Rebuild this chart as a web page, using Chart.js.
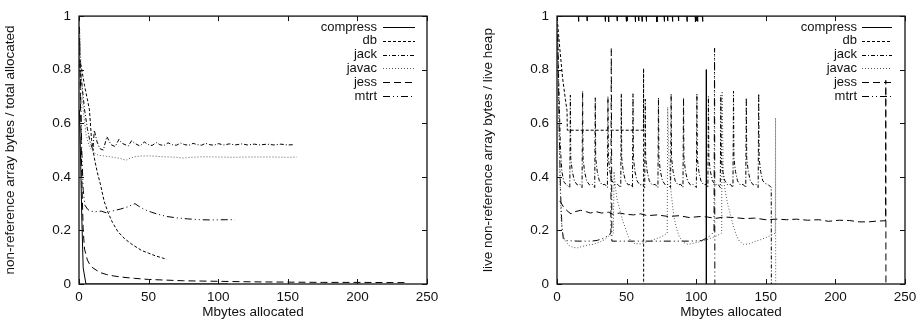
<!DOCTYPE html>
<html lang="en">
<head>
  <meta charset="UTF-8" />
  <title>Non-reference array bytes</title>
  <script src="https://cdn.jsdelivr.net/npm/chart.js"></script>
  <style>
    body {
      margin: 0;
      background: #fff;
    }
    canvas {
      position: absolute;
      top: 0;
    }
    #totalChart { left: 0; }
    #liveChart { left: 460px; }
  </style>
</head>
<body>
  <canvas id="totalChart" width="460" height="323"></canvas>
  <canvas id="liveChart" width="463" height="323"></canvas>

  <script>
    const benchmarks = ["compress", "db", "jack", "javac", "jess", "mtrt"];
    const xTickValues = [0, 50, 100, 150, 200, 250];
    const yTickValues = [0, 0.2, 0.4, 0.6, 0.8, 1];

    // left: non-reference array bytes / total allocated  ([Mbytes, ratio])
    const totalCompress = [[0.3,0.65],[1,0.5],[2,0.25],[3,0.06],[5,0],[107,0]];
    const totalDb = [[0.5,0.84],[2,0.8],[4,0.74],[6,0.69],[7.5,0.65],[9,0.54],[11,0.47],[13,0.42],[15.5,0.37],[18,0.31],
      [21,0.265],[24,0.23],[28,0.195],[33,0.168],[38,0.148],[45,0.125],[50,0.115],[55,0.105],[60,0.097],[63,0.092]];
    const totalJack = [[0.5,0.82],[2,0.75],[4,0.65],[6,0.58],[8,0.53],[10,0.5],[11,0.574],[13,0.53],[15,0.505],[17.5,0.5],
      [20,0.55],[23,0.52],[26,0.513],[28.7,0.54],[31,0.525],[35.4,0.515],[37.8,0.535],[40,0.525],[43.8,0.515],[46.9,0.53],
      [50,0.52],[52.5,0.517],[55.5,0.528],[58,0.52],[61,0.517],[64,0.527],[67,0.52],[70,0.518],[73,0.526],[76,0.52],
      [79,0.518],[82,0.525],[85,0.52],[88,0.518],[91,0.525],[94,0.52],[97,0.518],[100,0.524],[104,0.519],[108,0.523],
      [112,0.519],[117,0.523],[121,0.519],[126,0.522],[130,0.519],[135,0.522],[140,0.519],[145,0.522],[150,0.519],[154,0.52]];
    const totalJavac = [[0.5,0.95],[1.5,0.8],[3,0.65],[5,0.56],[7,0.52],[9,0.5],[11,0.49],[14,0.48],[18,0.478],[22,0.475],
      [26,0.472],[30,0.468],[33.8,0.462],[36,0.468],[40,0.475],[45,0.478],[50,0.478],[55,0.477],[60,0.475],[65,0.474],
      [70,0.473],[75,0.47],[80,0.473],[90,0.475],[100,0.474],[110,0.473],[120,0.474],[130,0.474],[140,0.474],[150,0.473],[156.5,0.474]];
    const totalJess = [[0.3,0.96],[1,0.7],[2,0.4],[3,0.2],[4,0.13],[6,0.09],[8,0.07],[10,0.06],[15,0.043],[20,0.035],
      [25,0.03],[30,0.026],[40,0.021],[50,0.017],[60,0.015],[75,0.012],[100,0.01],[125,0.008],[150,0.007],[175,0.006],
      [200,0.006],[236,0.005]];
    const totalMtrt = [[0.5,0.9],[2,0.5],[3,0.35],[4.3,0.294],[6,0.28],[8,0.272],[12,0.27],[16,0.272],[20,0.265],[22,0.27],
      [26,0.275],[30,0.28],[35,0.288],[40.2,0.3],[43,0.29],[47,0.278],[52,0.268],[57,0.26],[63,0.252],[70,0.247],
      [78,0.243],[87,0.24],[95,0.239],[105,0.24],[112,0.24]];

    // right: live non-reference array bytes / live heap
    const liveCompress = [[0,1],[15.3,1],[15.5,0.98],[15.7,1],[21.4,1],[21.6,0.982],[21.8,1],[34.5,1],[34.7,0.98],[34.9,1],
      [36.9,1],[37.1,0.978],[37.3,1],[43,1],[43.2,0.982],[43.4,1],[49.6,1],[49.8,0.98],[50,1],[56.1,1],[56.3,0.978],[56.5,1],
      [58.5,1],[58.7,0.982],[58.9,1],[60.9,1],[61.1,0.98],[61.3,1],[64,1],[64.2,0.98],[64.4,1],[71.6,1],[71.8,0.978],[72,1],
      [76.9,1],[77.1,0.98],[77.3,1],[79.3,1],[79.5,0.982],[79.7,1],[82.8,1],[83,0.98],[83.2,1],[87.1,1],[87.3,0.982],[87.5,1],
      [93.2,1],[93.4,0.98],[93.6,1],[99.2,1],[99.4,0.978],[99.6,1],[100.8,1],[101,0.98],[101.2,1],[104.4,1],[104.6,0.98],
      [104.8,1],[106,null],[107.3,0.8],[107.3,0]];
    const liveDb = [[0.5,0.97],[2,0.88],[4,0.77],[6,0.69],[7.2,0.647],[7.4,0.574],[20,0.574],[40,0.574],[62.1,0.574],
      [62.2,0.805],[62.25,0]];
    const liveJack = [[0.5,0.92],[1.5,0.7],[2.5,0.5],[3.5,0.42],[5,0.38],[7,0.37],[9.2,0.36],
      [9.6,0.705],[9.9,0.47],[11,0.42],[12.5,0.385],[14.5,0.37],[16.5,0.372],[18,0.36],
      [18.4,0.72],[18.7,0.47],[19.8,0.42],[21.3,0.385],[23.3,0.37],[25.3,0.372],[27.1,0.36],
      [27.5,0.695],[27.8,0.47],[28.9,0.42],[30.4,0.385],[32.4,0.37],[34.4,0.372],[36.2,0.36],
      [36.6,0.7],[36.9,0.47],[38,0.42],[39.5,0.385],[41.5,0.37],[43.5,0.372],[45.8,0.36],
      [46.2,0.71],[46.5,0.47],[47.6,0.42],[49.1,0.385],[51.1,0.37],[53,0.372],[54.2,0.36],
      [54.6,0.71],[54.9,0.47],[56,0.42],[57.5,0.385],[59.5,0.37],[61.5,0.372],[63,0.36],
      [63.4,0.69],[63.7,0.47],[64.8,0.42],[66.3,0.385],[68.3,0.37],[70.5,0.372],[72.5,0.36],
      [72.9,0.695],[73.2,0.47],[74.3,0.42],[75.8,0.385],[77.8,0.37],[79.8,0.372],[81.6,0.36],
      [82,0.71],[82.3,0.47],[83.4,0.42],[84.9,0.385],[86.9,0.37],[88.9,0.372],[90.5,0.36],
      [90.9,0.695],[91.2,0.47],[92.3,0.42],[93.8,0.385],[95.8,0.37],[97.8,0.372],[100.1,0.36],
      [100.5,0.71],[100.8,0.47],[101.9,0.42],[103.4,0.385],[105.4,0.37],[107,0.372],[108.4,0.36],
      [108.8,0.7],[109.1,0.47],[110.2,0.42],[111.7,0.385],[113.7,0.37],[115.7,0.372],[117.3,0.36],
      [117.7,0.705],[118,0.47],[119.1,0.42],[120.6,0.385],[122.6,0.37],[124.6,0.372],[126.4,0.36],
      [126.8,0.72],[127.1,0.47],[128.2,0.42],[129.7,0.385],[131.7,0.37],[133.7,0.372],[135.6,0.36],
      [136,0.695],[136.3,0.47],[137.4,0.42],[138.9,0.385],[140.9,0.37],[142.9,0.372],[144.5,0.36],
      [144.9,0.71],[145.2,0.47],[146.3,0.42],[147.8,0.385],[149.8,0.375],[152,0.37],[153.9,0.36],[154,0]];
    const liveJavac = [[0.3,1],[1,0.72],[2,0.42],[3,0.24],[4,0.19],[6,0.16],[9,0.143],[12,0.136],[15,0.135],[18,0.14],
      [22,0.145],[26,0.148],[30,0.155],[34,0.165],[37,0.178],[40.5,0.19],[41,0.42],[42,0.36],[43,0.32],[45,0.28],
      [47,0.24],[49,0.21],[51,0.18],[53,0.16],[56,0.15],[60,0.15],[65,0.158],[69,0.165],[73,0.172],[77,0.182],
      [79.2,0.19],[79.5,0.66],[80.5,0.45],[82,0.34],[84,0.25],[86,0.205],[88,0.175],[91,0.155],[94,0.148],[98,0.152],
      [102,0.157],[106,0.163],[110,0.17],[114,0.178],[118.3,0.19],[118.6,0.72],[119.5,0.4],[121,0.34],[123,0.29],
      [125,0.25],[127,0.21],[129,0.18],[131,0.16],[134,0.148],[138,0.15],[142,0.158],[146,0.165],[150,0.173],
      [154,0.182],[156.8,0.19],[157,0.62],[157.1,0]];
    const liveJess = [[2,0.31],[5,0.285],[8,0.27],[10,0.262],[13,0.27],[17,0.275],[21,0.27],[24,0.265],[28,0.27],
      [32,0.265],[37,0.268],[40,0.26],[45,0.265],[50,0.26],[55,0.258],[60,0.262],[65,0.255],[72,0.258],[80,0.252],
      [88,0.255],[95,0.248],[103,0.252],[108,0.25],[114,0.245],[120,0.25],[127,0.248],[135,0.244],[142,0.246],
      [150,0.24],[158,0.242],[165,0.24],[172,0.242],[180,0.238],[188,0.24],[195,0.234],[203,0.238],[210,0.237],
      [217,0.232],[224,0.232],[230,0.235],[236,0.236],[236.2,0.76],[236.3,0]];
    const liveMtrt = [[0.5,0.93],[1.5,0.6],[2.5,0.35],[3.5,0.22],[4.5,0.17],[6,0.162],[15,0.16],[25,0.16],[29,0.163],
      [33,0.17],[36,0.178],[38.7,0.19],[39,0.88],[39.4,0.16],[55,0.16],[75,0.16],[95,0.16],[104,0.162],[107,0.17],
      [110,0.18],[112.8,0.195],[113.2,0.88],[113.4,0]];

    const dashes = [[], [3, 2], [4, 2, 1, 2], [1, 2], [7, 4], [7, 3, 1, 3, 1, 3]];
    const colours = ["#000", "#000", "#000", "#555", "#000", "#000"];
    const font = { family: '"Liberation Sans", Arial, sans-serif', size: 13.5 };

    // gnuplot style frame, inward ticks and key inside the plot
    const framePlugin = {
      id: "frame",
      afterDatasetsDraw(chart, args, opts) {
        const { ctx, chartArea: a, scales: { x, y } } = chart;
        ctx.save();
        ctx.strokeStyle = "#111";
        ctx.lineWidth = 1.3;
        ctx.setLineDash([]);
        ctx.strokeRect(a.left, a.top, a.right - a.left, a.bottom - a.top);
        ctx.lineWidth = 1;
        ctx.beginPath();
        x.ticks.forEach(t => {
          const px = Math.round(x.getPixelForValue(t.value)) + 0.5;
          ctx.moveTo(px, a.bottom); ctx.lineTo(px, a.bottom - 5);
          ctx.moveTo(px, a.top); ctx.lineTo(px, a.top + 5);
        });
        y.ticks.forEach(t => {
          const py = Math.round(y.getPixelForValue(t.value)) + 0.5;
          ctx.moveTo(a.left, py); ctx.lineTo(a.left + 5, py);
          ctx.moveTo(a.right, py); ctx.lineTo(a.right - 5, py);
        });
        ctx.stroke();

        ctx.font = '13px "Liberation Sans", Arial, sans-serif';
        ctx.fillStyle = "#111";
        ctx.textAlign = "right";
        ctx.textBaseline = "middle";
        chart.data.datasets.forEach((ds, i) => {
          const ry = opts.rowTop + i * 13.8;
          ctx.fillText(ds.label, opts.textRight, ry);
          ctx.strokeStyle = ds.borderColor;
          ctx.setLineDash(ds.borderDash);
          ctx.beginPath();
          ctx.moveTo(opts.lineFrom, Math.round(ry) + 0.5);
          ctx.lineTo(opts.lineTo, Math.round(ry) + 0.5);
          ctx.stroke();
        });
        ctx.restore();
      }
    };

    function makeChart(id, series, yTitle, yTitlePad, yWidth, padRight, key) {
      new Chart(document.getElementById(id), {
        type: "line",
        data: {
          datasets: series.map((s, i) => ({
            label: benchmarks[i],
            data: s.map(([x, y]) => ({ x, y })),
            borderColor: colours[i],
            borderWidth: 1,
            borderDash: dashes[i],
            pointRadius: 0,
            tension: 0,
            fill: false,
            spanGaps: false
          }))
        },
        options: {
          responsive: false,
          animation: false,
          layout: { padding: { top: 10, right: padRight, left: 0, bottom: 0 } },
          plugins: {
            legend: { display: false },
            tooltip: { enabled: false },
            frame: key
          },
          scales: {
            x: {
              type: "linear", min: 0, max: 250,
              afterBuildTicks: s => { s.ticks = xTickValues.map(v => ({ value: v })); },
              afterFit: s => { s.height = 39; },
              grid: { display: false, drawTicks: false },
              border: { display: false },
              ticks: { padding: 5, color: "#111", font, callback: v => String(v) },
              title: { display: true, text: "Mbytes allocated", color: "#111", font, padding: { top: 0, bottom: 3 } }
            },
            y: {
              min: 0, max: 1,
              afterBuildTicks: s => { s.ticks = yTickValues.map(v => ({ value: v })); },
              afterFit: s => { s.width = yWidth; },
              grid: { display: false, drawTicks: false },
              border: { display: false },
              ticks: { padding: 8, color: "#111", font, callback: v => String(v) },
              title: { display: true, text: yTitle, color: "#111", font, padding: { top: yTitlePad, bottom: 0 } }
            }
          }
        },
        plugins: [framePlugin]
      });
    }

    makeChart("totalChart",
      [totalCompress, totalDb, totalJack, totalJavac, totalJess, totalMtrt],
      "non-reference array bytes / total allocated", 2, 79, 33,
      { textRight: 377, lineFrom: 383, lineTo: 415, rowTop: 27 });
    makeChart("liveChart",
      [liveCompress, liveDb, liveJack, liveJavac, liveJess, liveMtrt],
      "live non-reference array bytes / live heap", 20, 97, 18,
      { textRight: 397, lineFrom: 402, lineTo: 432, rowTop: 27 });
  </script>
</body>
</html>
